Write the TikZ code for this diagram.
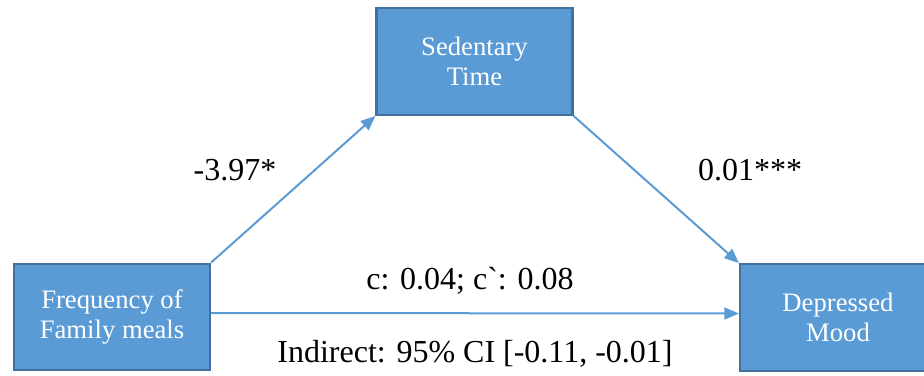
\documentclass[tikz,border=0pt]{standalone}
\usepackage{fontspec}
\setmainfont{Liberation Serif}
\usepackage{tikz}
\usetikzlibrary{arrows.meta}
\definecolor{boxblue}{HTML}{5B9BD5}
\definecolor{boxedge}{HTML}{41719C}
\tikzstyle{var}=[rectangle,draw=boxedge,fill=boxblue,line width=1.6pt,minimum width=147pt,minimum height=80pt,inner sep=0pt,align=center,text=white,font=\fontsize{20}{23}\selectfont]
\tikzstyle{arr} = [draw,boxblue,line width=1.5pt,-{Triangle[length=11pt,width=9pt]}]
\tikzstyle{weight} = [font=\fontsize{24}{28}\selectfont,anchor=base]

\begin{document}
\begin{tikzpicture}[x=0.75pt,y=-0.75pt]
    \useasboundingbox (0,0) rectangle (924,375);
    \foreach \pos/\name/\val in {{(474.5,61.5)/sed/Sedentary\\Time},
    {(112,317)/fam/Frequency of\\Family meals},{(838,317.5)/dep/Depressed\\Mood}}
        \node[var] (\name) at \pos {\val};

    \path[arr] (fam.north east) -- (sed.south west);
    \path[arr] (sed.south east) -- (dep.north west);
    \path[arr] ([yshift=3pt]fam.east) -- ([yshift=3pt]dep.west);

    \foreach \pos/\name/\val in {{(235,180)/a/-3.97*},{(750,180)/b/0.01***},
    {(470,289)/c/c: 0.04; c\textasciigrave: 0.08},
    {(475,362)/ind/Indirect: 95\% CI [-0.11, -0.01]}}
        \node[weight] (\name) at \pos {\val};
\end{tikzpicture}
\end{document}
